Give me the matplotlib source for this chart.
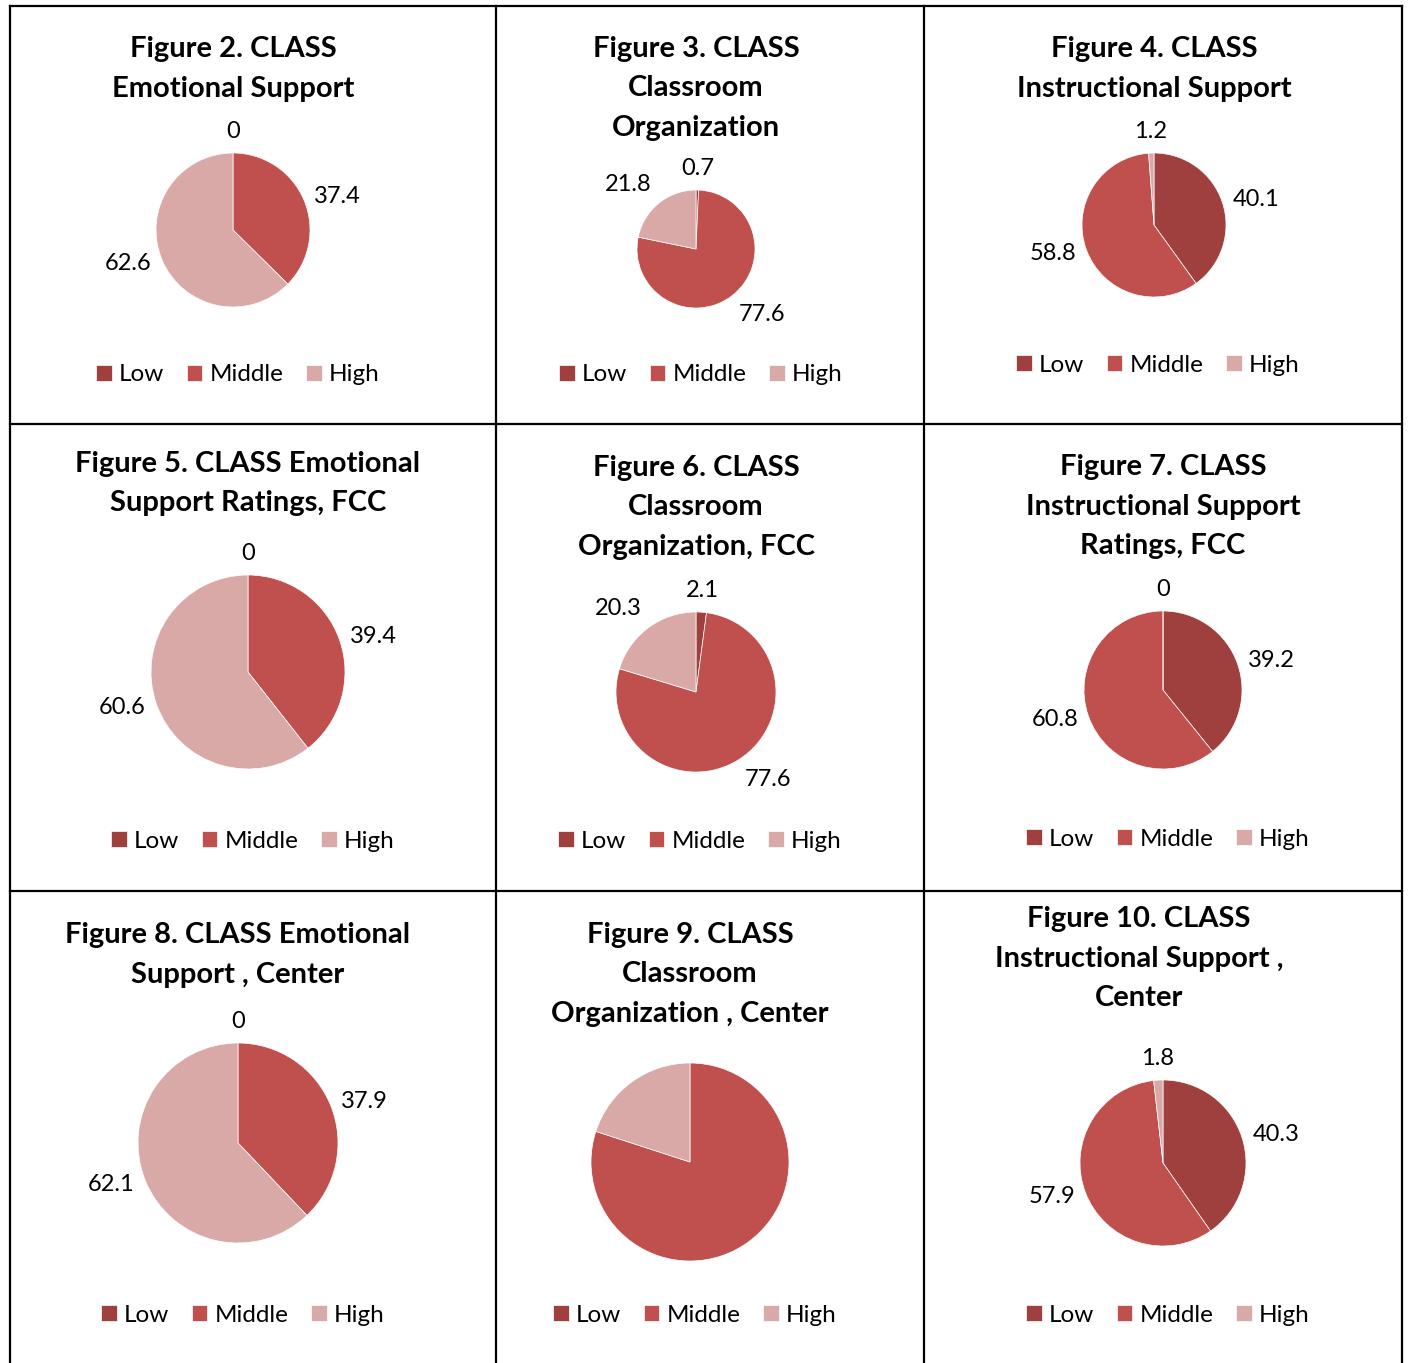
import matplotlib.pyplot as plt
from matplotlib.lines import Line2D
import numpy as np

W, H = 1410, 1363

categories = ["Low", "Middle", "High"]
colors = ["#9F3F3E", "#C0504D", "#D9A9A8"]

titles = [
    ["Figure 2. CLASS", "Emotional Support"],
    ["Figure 3. CLASS", "Classroom", "Organization"],
    ["Figure 4. CLASS", "Instructional Support"],
    ["Figure 5. CLASS Emotional", "Support Ratings, FCC"],
    ["Figure 6. CLASS", "Classroom", "Organization, FCC"],
    ["Figure 7. CLASS", "Instructional Support", "Ratings, FCC"],
    ["Figure 8. CLASS Emotional", "Support , Center"],
    ["Figure 9. CLASS", "Classroom", "Organization , Center"],
    ["Figure 10. CLASS", "Instructional Support ,", "Center"],
]

# Low, Middle, High percentages
fig2 = [0, 37.4, 62.6]
fig3 = [0.7, 77.6, 21.8]
fig4 = [40.1, 58.8, 1.2]
fig5 = [0, 39.4, 60.6]
fig6 = [2.1, 77.6, 20.3]
fig7 = [39.2, 60.8, 0]
fig8 = [0, 37.9, 62.1]
fig9 = [0, 80.0, 20.0]
fig10 = [40.3, 57.9, 1.8]
values = [fig2, fig3, fig4, fig5, fig6, fig7, fig8, fig9, fig10]
show_labels = [True, True, True, True, True, True, True, False, True]

# layout in pixels: title x, first title line y, pie centre, radius, legend centre
title_x = [233, 696, 1154, 248, 696, 1163, 238, 690, 1139]
title_y = [47, 47, 47, 462, 466, 465, 933, 933, 917]
pie_c = [(233, 230), (696, 249), (1154, 225), (248, 672), (696, 692),
         (1163, 690), (238, 1143), (690, 1162), (1163, 1163)]
pie_r = [77, 59, 72, 97, 80, 79, 100, 99, 83]
leg_c = [(238, 375), (701, 375), (1158, 365), (253, 841), (700, 841),
         (1168, 839), (243, 1315), (695, 1315), (1168, 1315)]

FONT = "Lato"

fig = plt.figure(figsize=(W / 100, H / 100), dpi=100)


def fx(x):
    return x / W


def fy(y):
    return 1 - y / H


# table grid
for x in [10, 496, 924, 1402]:
    fig.add_artist(Line2D([fx(x), fx(x)], [fy(6), fy(H + 5)],
                          transform=fig.transFigure, color="black", lw=1.6))
for y in [6, 424, 891]:
    fig.add_artist(Line2D([fx(10), fx(1402)], [fy(y), fy(y)],
                          transform=fig.transFigure, color="black", lw=1.6))

for i in range(9):
    # title
    for k, line in enumerate(titles[i]):
        fig.text(fx(title_x[i]), fy(title_y[i] + 39.5 * k + 10), line,
                 ha="center", va="baseline", fontsize=21,
                 fontweight="bold", family=FONT)

    cx, cy = pie_c[i]
    r = pie_r[i]
    ax = fig.add_axes([fx(cx - r), fy(cy + r), 2 * r / W, 2 * r / H])
    wedges, _ = ax.pie(values[i], colors=colors, startangle=90,
                       counterclock=False, radius=1,
                       wedgeprops=dict(edgecolor="white", linewidth=0.5))
    ax.set_xlim(-1, 1)
    ax.set_ylim(-1, 1)
    ax.axis("off")

    if show_labels[i]:
        dist = 1 + 11 / r
        for w, v in zip(wedges, values[i]):
            ang = np.deg2rad((w.theta1 + w.theta2) / 2)
            c, s = np.cos(ang), np.sin(ang)
            ha = "left" if c > 0.25 else ("right" if c < -0.25 else "center")
            va = "bottom" if s > 0.5 else ("top" if s < -0.5 else "center")
            ax.text(dist * c, dist * s, f"{v:g}", ha=ha, va=va,
                    fontsize=17, family=FONT, clip_on=False)

    lx, ly = leg_c[i]
    ax.legend(wedges, categories, loc="center",
              bbox_to_anchor=(fx(lx), fy(ly)), bbox_transform=fig.transFigure,
              ncol=3, frameon=False, handlelength=0.62, handleheight=0.62,
              handletextpad=0.3, columnspacing=0.95,
              prop={"family": FONT, "size": 17.5})

fig.savefig("out.png", dpi=100)
